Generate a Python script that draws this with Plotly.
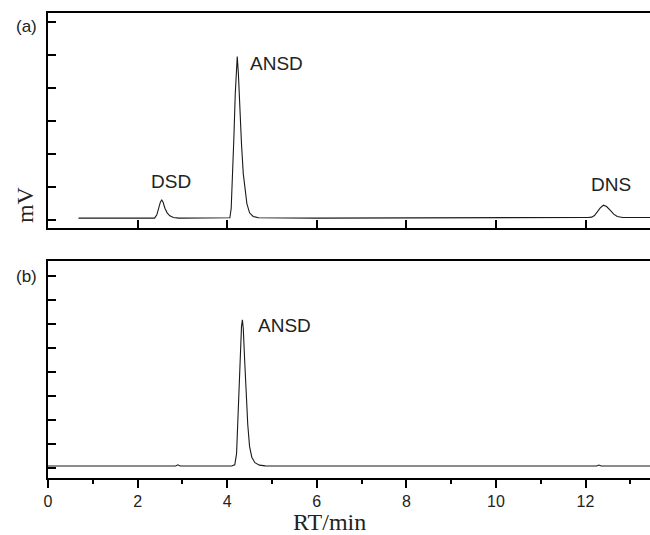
import plotly.graph_objects as go

# Panel (a) chromatogram: retention time (min) and detector signal (arbitrary mV units)
rt_a = [0.68, 2.00, 2.38, 2.43, 2.47, 2.51, 2.54, 2.57, 2.61, 2.66, 2.72, 2.80, 2.92,
        4.00, 4.06, 4.09, 4.12, 4.15, 4.18, 4.20, 4.225, 4.25, 4.27, 4.29, 4.32, 4.36,
        4.40, 4.44, 4.50, 4.58, 4.70, 6.00,
        12.05, 12.14, 12.20, 12.26, 12.33, 12.40, 12.47, 12.55, 12.63, 12.71, 12.83, 13.50]
sig_a = [0.6, 0.6, 0.6, 1.6, 3.6, 5.5, 6.1, 5.4, 3.6, 2.2, 1.3, 0.8, 0.6,
         0.6, 0.7, 3.5, 12.0, 25.0, 38.0, 44.0, 49.5, 44.5, 37.0, 30.0, 23.0, 14.0,
         8.5, 5.0, 2.2, 1.1, 0.7, 0.6,
         0.8, 0.9, 1.4, 2.4, 3.7, 4.5, 4.1, 3.0, 1.8, 1.1, 0.8, 0.8]

# Panel (b) chromatogram
rt_b = [0.0, 2.85, 2.90, 2.95, 4.10, 4.17, 4.21, 4.24, 4.27, 4.30, 4.32, 4.34, 4.36,
        4.39, 4.42, 4.46, 4.50, 4.55, 4.62, 4.72, 4.85, 12.25, 12.30, 12.35, 13.50]
sig_b = [0.8, 0.8, 1.3, 0.8, 0.8, 1.3, 6.0, 20.0, 36.0, 52.0, 59.0, 61.7, 58.0,
         45.0, 31.0, 18.0, 9.0, 4.5, 2.2, 1.2, 0.9, 0.8, 1.2, 0.8, 0.8]

# Peak labels: (text, rt, signal) for each panel
labels_a = [("DSD", 2.75, 11.8), ("ANSD", 5.11, 47.3), ("DNS", 12.57, 10.9)]
labels_b = [("ANSD", 5.27, 59.2)]

x_major = [0, 2, 4, 6, 8, 10, 12]
x_range = [0, 13.44]

fig = go.Figure()
line_style = dict(color="#1a1a1a", width=1.1)
fig.add_trace(go.Scatter(x=rt_a, y=sig_a, mode="lines", line=line_style,
                         xaxis="x", yaxis="y", showlegend=False, hoverinfo="skip"))
fig.add_trace(go.Scatter(x=rt_b, y=sig_b, mode="lines", line=line_style,
                         xaxis="x2", yaxis="y2", showlegend=False, hoverinfo="skip"))

axis_common = dict(showline=True, linecolor="black", linewidth=2, showgrid=False,
                   zeroline=False, tickcolor="black", tickwidth=2)

fig.update_layout(
    width=650, height=535,
    margin=dict(l=48, r=0, t=13, b=57),
    paper_bgcolor="white", plot_bgcolor="white",
    font=dict(family="Liberation Sans, Arial", color="#222"),
    xaxis=dict(anchor="y", domain=[0, 1], range=x_range, mirror=True,
               ticks="inside", ticklen=8, tickvals=x_major[1:], showticklabels=False,
               **axis_common),
    yaxis=dict(domain=[0.5376, 1], range=[-2.4, 62.7], ticks="inside", ticklen=8,
               tickvals=[0, 10, 20, 30, 40, 50, 60], showticklabels=False,
               **axis_common),
    xaxis2=dict(anchor="y2", domain=[0, 1], range=x_range, mirror=True,
                ticks="outside", ticklen=8, tickvals=x_major,
                tickfont=dict(size=16, family="Liberation Sans, Arial", color="#222"),
                minor=dict(ticks="outside", ticklen=4, dtick=1, tick0=1,
                           tickcolor="black", tickwidth=2),
                **axis_common),
    yaxis2=dict(domain=[0, 0.4667], range=[-4.17, 86.25], ticks="inside", ticklen=8,
                tickvals=[0, 10, 20, 30, 40, 50, 60, 70, 80], showticklabels=False,
                **axis_common),
)

sans = dict(family="Liberation Sans, Arial", color="#222")
serif = dict(family="Liberation Serif, Times New Roman", color="#222")
anns = []
for txt, x, y in labels_a:
    anns.append(dict(text=txt, x=x, y=y, xref="x", yref="y", showarrow=False,
                     xanchor="center", yanchor="middle", font=dict(size=19, **sans)))
for txt, x, y in labels_b:
    anns.append(dict(text=txt, x=x, y=y, xref="x2", yref="y2", showarrow=False,
                     xanchor="center", yanchor="middle", font=dict(size=19, **sans)))
anns += [
    dict(text="(a)", x=-0.0349, y=0.9699, xref="paper", yref="paper", showarrow=False,
         xanchor="center", yanchor="middle", font=dict(size=17, **sans)),
    dict(text="(b)", x=-0.0349, y=0.4344, xref="paper", yref="paper", showarrow=False,
         xanchor="center", yanchor="middle", font=dict(size=17, **sans)),
    dict(text="mV", x=-0.0382, y=0.587, xref="paper", yref="paper", showarrow=False,
         xanchor="center", yanchor="middle", textangle=-90, font=dict(size=24, **serif)),
    dict(text="RT/min", x=0.468, y=-0.0946, xref="paper", yref="paper", showarrow=False,
         xanchor="center", yanchor="middle", font=dict(size=24, **serif)),
]
fig.update_layout(annotations=anns)

fig.write_html("out.html", config={"displayModeBar": False},
               post_script="document.body.style.margin='0';document.body.style.overflow='hidden';")
